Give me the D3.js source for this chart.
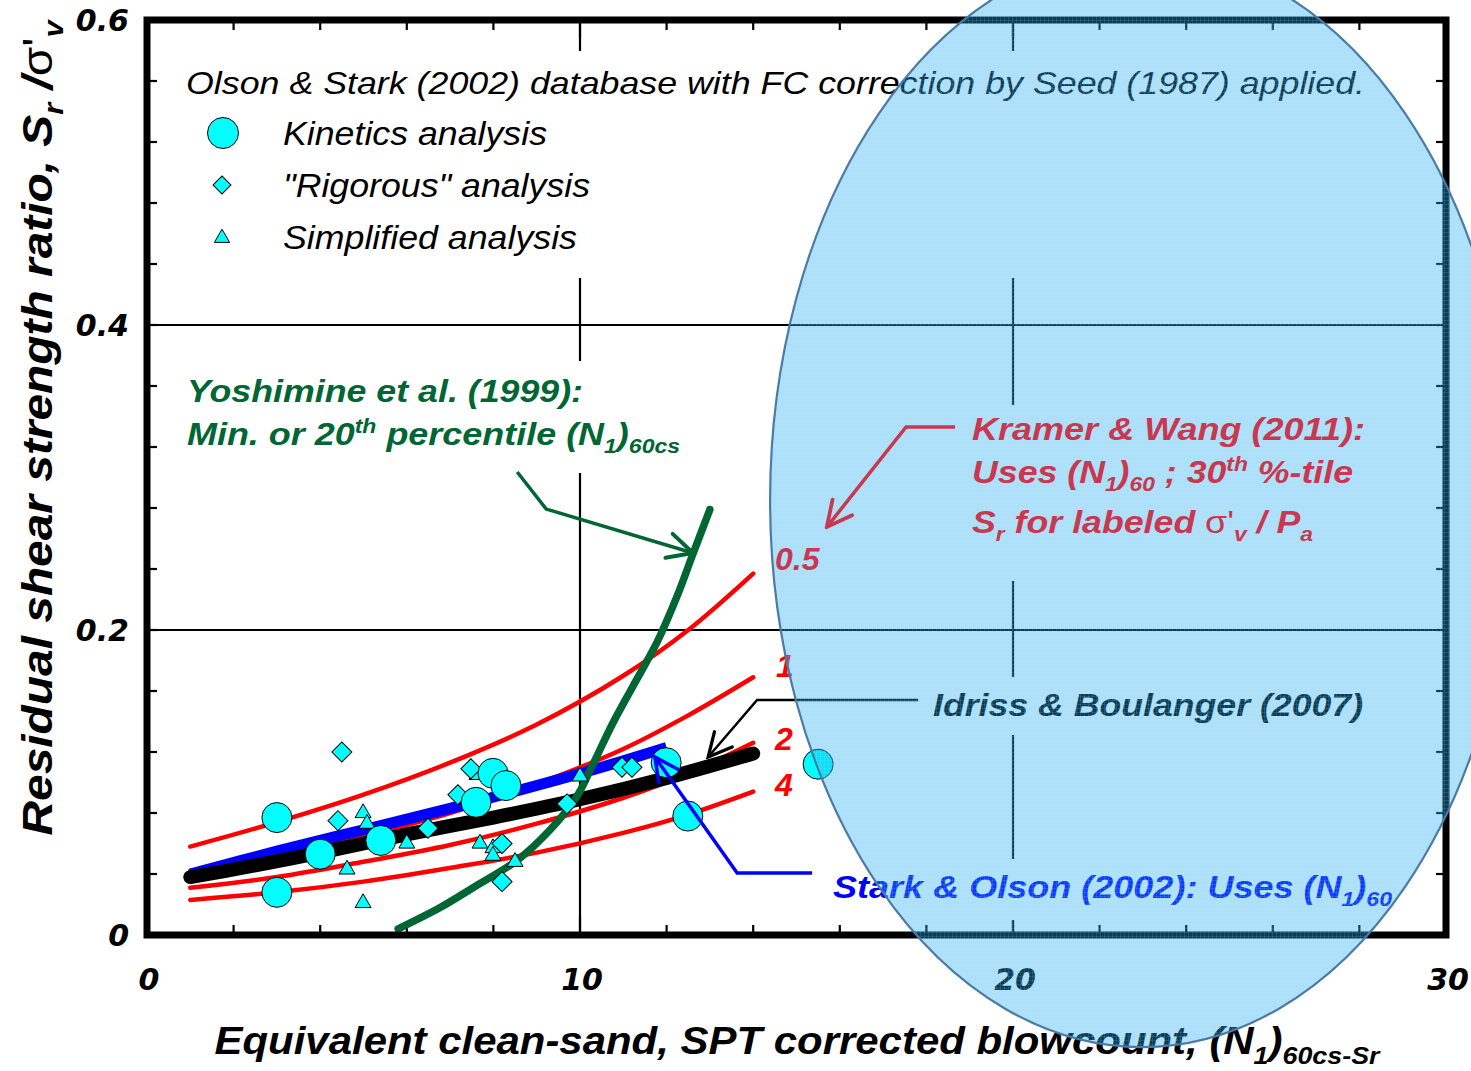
<!DOCTYPE html>
<html>
<head>
<meta charset="utf-8">
<script src="https://cdn.jsdelivr.net/npm/d3@7"></script>
<style>
  body { margin: 0; background: #fff; }
  svg { display: block; }
</style>
</head>
<body>
<div id="chart"></div>
<script>
/* ------------------------- Data ------------------------- */
/* Olson & Stark (2002) database: [ (N1)60cs-Sr , Sr/sigma'v ] */
var kinetics = [
    [3.00, 0.077], [4.00, 0.053], [3.00, 0.028], [5.40, 0.062], [7.99, 0.106],
    [8.29, 0.098], [7.60, 0.087], [11.99, 0.113], [12.49, 0.078], [15.50, 0.112]
];
var rigorous = [
    [4.50, 0.120], [4.41, 0.075], [7.48, 0.109], [7.18, 0.092], [6.49, 0.070],
    [8.20, 0.060], [8.20, 0.035], [9.70, 0.086], [10.97, 0.110], [11.20, 0.110]
];
var simplified = [
    [4.99, 0.080], [5.08, 0.073], [4.62, 0.043], [4.99, 0.021], [6.00, 0.060],
    [7.62, 0.105], [7.69, 0.060], [7.99, 0.057], [7.99, 0.052], [8.50, 0.048],
    [10.00, 0.104]
];

/* Kramer & Wang (2011) curves for sigma'v / Pa = 0.5, 1, 2, 4 */
var kwLabels = ["0.5", "1", "2", "4"];
var kw05 = [[1, 0.058], [3, 0.074], [5, 0.092], [7, 0.113], [9, 0.138], [11, 0.170], [12.5, 0.200], [14, 0.237]];
var kw1  = [[1, 0.042], [3, 0.052], [5, 0.065], [7, 0.080], [9, 0.099], [11, 0.122], [12.5, 0.144], [14, 0.169]];
var kw2  = [[1, 0.031], [3, 0.038], [5, 0.048], [7, 0.059], [9, 0.073], [11, 0.090], [12.5, 0.106], [14, 0.126]];
var kw4  = [[1, 0.023], [3, 0.028], [5, 0.035], [7, 0.044], [9, 0.054], [11, 0.067], [12.5, 0.079], [14, 0.094]];

/* Stark & Olson (2002) */
var starkOlson = [[1.0, 0.040], [3.0, 0.055], [5.0, 0.069], [7.0, 0.083], [9.0, 0.098], [10.5, 0.110], [12.0, 0.123]];

/* Idriss & Boulanger (2007) */
var idrissBoulanger = [[1, 0.038], [2, 0.043], [4, 0.054], [6, 0.066], [8, 0.077], [10, 0.089], [12, 0.103], [14, 0.119]];

/* Yoshimine et al. (1999) */
var yoshimine = [
    [5.80, 0.004], [6.77, 0.018], [7.53, 0.031], [8.55, 0.049], [9.31, 0.069],
    [9.93, 0.091], [10.30, 0.112], [10.76, 0.139], [11.22, 0.163], [11.78, 0.192],
    [12.24, 0.222], [12.61, 0.250], [13.00, 0.279]
];

/* Call-out arrows (data units) */
var arrowYoshimine = [[8.55, 0.3036], [9.22, 0.2793], [12.61, 0.2505]];
var arrowIdriss    = [[17.81, 0.1541], [14.09, 0.1541], [12.96, 0.1167]];
var arrowStark     = [[15.36, 0.0407], [13.63, 0.0407], [11.73, 0.1167]];
var arrowKramer    = [[18.66, 0.3331], [17.53, 0.3331], [15.70, 0.2675]];

/* Highlight ellipse (centre, radii in data units) */
var ellipseCentre = [22.98, 0.2852],
    ellipseRadii = [8.59, 0.3587];

/* Axis ticks */
var xTickLabels = [0, 10, 20, 30];
var yTickLabels = [0, 0.2, 0.4, 0.6];
var xGrid = [10, 20];
var yGrid = [0.2, 0.4];
/* ----------------------- End Data ----------------------- */

/* ------------------------- General ------------------------- */
var width = 1471,
    height = 1071,
    plot = {left: 147, top: 20, right: 1446, bottom: 935},
    boldFont = "'Liberation Sans', Arial, sans-serif",
    tickFont = "'DejaVu Sans', sans-serif",
    green = "#006633",
    crimson = "#c8384f";

var x = d3.scaleLinear().domain([0, 30]).range([plot.left, plot.right]);
var y = d3.scaleLinear().domain([0, 0.6]).range([plot.bottom, plot.top]);

var svg = d3.select("#chart")
            .append("svg")
            .attr("width", width)
            .attr("height", height);

var defs = svg.append("defs");

/* Text with sub / superscripts: parts = [[text, "sub"|"sup"|null, style], ...] */
function richText(sel, px, py, parts, attrs) {
    var t = sel.append("text").attr("x", px).attr("y", py);
    for (var key in attrs) t.attr(key, attrs[key]);
    var fs = attrs["font-size"], shift = 0;
    parts.forEach(function(p) {
        var target = p[1] === "sub" ? fs * 0.25 : p[1] === "sup" ? -fs * 0.36 : 0;
        var span = t.append("tspan").attr("dy", target - shift).text(p[0]);
        if (p[1]) span.attr("font-size", fs * 0.64);
        if (p[2]) span.attr("font-style", p[2]).attr("font-weight", "normal");
        shift = target;
    });
    return t;
}

/* White box behind a group of text */
function backing(g, pad) {
    var b = g.node().getBBox();
    g.insert("rect", ":first-child")
        .attr("x", b.x - pad[3])
        .attr("y", b.y - pad[0])
        .attr("width", b.width + pad[1] + pad[3])
        .attr("height", b.height + pad[0] + pad[2])
        .attr("fill", "#fff");
}

/* Open chevron arrow heads */
function arrowHead(id, color, size, sw) {
    defs.append("marker")
        .attr("id", id)
        .attr("viewBox", "-1 -1 12 12")
        .attr("refX", 10)
        .attr("refY", 5)
        .attr("markerUnits", "userSpaceOnUse")
        .attr("markerWidth", size)
        .attr("markerHeight", size)
        .attr("orient", "auto")
        .append("path")
        .attr("d", "M0,0 L10,5 L0,10")
        .attr("fill", "none")
        .attr("stroke", color)
        .attr("stroke-width", sw)
        .attr("stroke-linecap", "round");
}
arrowHead("headGreen", green, 30, 1.6);
arrowHead("headBlack", "#000", 28, 1.4);
arrowHead("headBlue", "#0000ff", 28, 1.5);
arrowHead("headRed", crimson, 30, 1.5);

var line = d3.line()
            .x(function(d) { return x(d[0]); })
            .y(function(d) { return y(d[1]); })
            .curve(d3.curveCatmullRom);

var poly = d3.line()
            .x(function(d) { return x(d[0]); })
            .y(function(d) { return y(d[1]); });

function bi(fill, len) {
    return {"font-family": boldFont, "font-style": "italic", "font-weight": "bold",
            "font-size": 32, "fill": fill, "textLength": len, "lengthAdjust": "spacingAndGlyphs"};
}
/* ----------------------- End General ----------------------- */

/* ------------------------- Grid and ticks ------------------------- */
svg.append("g")
    .selectAll("line")
    .data(xGrid)
    .enter().append("line")
    .attr("x1", function(d) { return x(d); })
    .attr("x2", function(d) { return x(d); })
    .attr("y1", plot.top)
    .attr("y2", plot.bottom)
    .attr("stroke", "#000")
    .attr("stroke-width", 2.2);

svg.append("g")
    .selectAll("line")
    .data(yGrid)
    .enter().append("line")
    .attr("x1", plot.left)
    .attr("x2", plot.right)
    .attr("y1", function(d) { return y(d); })
    .attr("y2", function(d) { return y(d); })
    .attr("stroke", "#000")
    .attr("stroke-width", 2.2);

/* Inward ticks on all four sides */
var xTicks = d3.range(2, 30, 2),
    yTicks = d3.range(1, 15).map(function(i) { return i * 0.04; });

var ticks = svg.append("g").attr("stroke", "#000").attr("stroke-width", 2.2);

xTicks.forEach(function(v) {
    var len = (v % 10 === 0) ? 18 : 10;
    ticks.append("line").attr("x1", x(v)).attr("x2", x(v))
        .attr("y1", plot.bottom).attr("y2", plot.bottom - len);
    ticks.append("line").attr("x1", x(v)).attr("x2", x(v))
        .attr("y1", plot.top).attr("y2", plot.top + len);
});
yTicks.forEach(function(v) {
    ticks.append("line").attr("y1", y(v)).attr("y2", y(v))
        .attr("x1", plot.left).attr("x2", plot.left + 10);
    ticks.append("line").attr("y1", y(v)).attr("y2", y(v))
        .attr("x1", plot.right).attr("x2", plot.right - 10);
});
/* ----------------------- End Grid ----------------------- */

/* ------------------------- Curves ------------------------- */
var kwCurves = [kw05, kw1, kw2, kw4];

svg.append("g")
    .selectAll("path")
    .data(kwCurves)
    .enter().append("path")
    .attr("d", line)
    .attr("fill", "none")
    .attr("stroke", "#ff0000")
    .attr("stroke-width", 4.5)
    .attr("stroke-linecap", "round");

svg.append("path")
    .datum(starkOlson)
    .attr("d", line)
    .attr("fill", "none")
    .attr("stroke", "#0000ff")
    .attr("stroke-width", 11);

svg.append("path")
    .datum(idrissBoulanger)
    .attr("d", line)
    .attr("fill", "none")
    .attr("stroke", "#000")
    .attr("stroke-width", 14)
    .attr("stroke-linecap", "round");

svg.append("path")
    .datum(yoshimine)
    .attr("d", line)
    .attr("fill", "none")
    .attr("stroke", green)
    .attr("stroke-width", 7.5)
    .attr("stroke-linecap", "round");
/* ----------------------- End Curves ----------------------- */

/* ------------------------- Data points ------------------------- */
var diamond = d3.symbol().type(d3.symbolSquare).size(200),
    triangle = d3.symbol().type(d3.symbolTriangle).size(110);

var points = svg.append("g")
                .attr("fill", "#00ffff")
                .attr("stroke", "#000")
                .attr("stroke-width", 1);

points.selectAll(".tri")
    .data(simplified)
    .enter().append("path")
    .attr("class", "tri")
    .attr("d", triangle)
    .attr("transform", function(d) { return "translate(" + x(d[0]) + "," + y(d[1]) + ")"; });

points.selectAll(".dia")
    .data(rigorous)
    .enter().append("path")
    .attr("class", "dia")
    .attr("d", diamond)
    .attr("transform", function(d) { return "translate(" + x(d[0]) + "," + y(d[1]) + ")rotate(45)"; });

points.selectAll("circle")
    .data(kinetics)
    .enter().append("circle")
    .attr("cx", function(d) { return x(d[0]); })
    .attr("cy", function(d) { return y(d[1]); })
    .attr("r", 15);
/* ----------------------- End Data points ----------------------- */

/* ------------------------- Legend ------------------------- */
var legend = svg.append("g")
                .attr("font-family", boldFont)
                .attr("font-style", "italic")
                .attr("fill", "#000");

legend.append("text")
    .attr("x", 186).attr("y", 94)
    .attr("font-size", 32)
    .attr("textLength", 1179)
    .attr("lengthAdjust", "spacingAndGlyphs")
    .text("Olson & Stark (2002) database with FC correction by Seed (1987) applied.");

var legendItems = ["Kinetics analysis", "\"Rigorous\" analysis", "Simplified analysis"],
    legendWidths = [264, 307, 294];
legend.selectAll(".item")
    .data(legendItems)
    .enter().append("text")
    .attr("class", "item")
    .attr("x", 283)
    .attr("y", function(d, i) { return 145 + i * 52; })
    .attr("font-size", 33)
    .attr("textLength", function(d, i) { return legendWidths[i]; })
    .attr("lengthAdjust", "spacingAndGlyphs")
    .text(function(d) { return d; });

backing(legend, [14, 40, 22, 26]);

var legendMarks = legend.append("g")
                        .attr("fill", "#00ffff")
                        .attr("stroke", "#000")
                        .attr("stroke-width", 1);
legendMarks.append("circle").attr("cx", 223).attr("cy", 133).attr("r", 15.5);
legendMarks.append("path").attr("d", d3.symbol().type(d3.symbolSquare).size(160))
    .attr("transform", "translate(222,185)rotate(45)");
legendMarks.append("path").attr("d", d3.symbol().type(d3.symbolTriangle).size(100))
    .attr("transform", "translate(222,238)");
/* ----------------------- End Legend ----------------------- */

/* ------------------------- Annotations under the ellipse ------------------------- */
/* Yoshimine */
var yoshi = svg.append("g");
richText(yoshi, 187, 402, [["Yoshimine et al. (1999):"]], bi(green, 396));
richText(yoshi, 187, 445, [["Min. or 20"], ["th", "sup"], [" percentile (N"], ["1", "sub"], [")"], ["60cs", "sub"]],
    bi(green, 493));
backing(yoshi, [12, 6, 16, 6]);

svg.append("path")
    .datum(arrowYoshimine)
    .attr("d", poly)
    .attr("fill", "none")
    .attr("stroke", green)
    .attr("stroke-width", 3.5)
    .attr("marker-end", "url(#headGreen)");

/* White box behind the Kramer & Wang note (text itself is drawn above the ellipse) */
var kramerBox = svg.append("g");

/* Curve labels for sigma'v / Pa (0.5 goes above the ellipse) */
var kwLabelPos = [[775, 570], [776, 677], [775, 750], [775, 796]];
svg.append("g")
    .selectAll("text")
    .data(kwLabels.slice(1))
    .enter().append("text")
    .attr("x", function(d, i) { return kwLabelPos[i + 1][0]; })
    .attr("y", function(d, i) { return kwLabelPos[i + 1][1]; })
    .attr("font-family", boldFont)
    .attr("font-style", "italic")
    .attr("font-weight", "bold")
    .attr("font-size", 32)
    .attr("fill", "#ff0000")
    .text(function(d) { return d; });

/* Idriss & Boulanger */
var idriss = svg.append("g");
richText(idriss, 933, 716, [["Idriss & Boulanger (2007)"]], bi("#000", 430));
backing(idriss, [10, 8, 12, 8]);

svg.append("path")
    .datum(arrowIdriss)
    .attr("d", poly)
    .attr("fill", "none")
    .attr("stroke", "#000")
    .attr("stroke-width", 2.5)
    .attr("marker-end", "url(#headBlack)");

/* Stark & Olson */
var stark = svg.append("g");
richText(stark, 833, 898, [["Stark & Olson (2002): Uses (N"], ["1", "sub"], [")"], ["60", "sub"]],
    bi("#0000ff", 559));
backing(stark, [10, 8, 10, 8]);

svg.append("path")
    .datum(arrowStark)
    .attr("d", poly)
    .attr("fill", "none")
    .attr("stroke", "#0000ff")
    .attr("stroke-width", 3.5)
    .attr("marker-end", "url(#headBlue)");
/* ----------------------- End Annotations ----------------------- */

/* ------------------------- Border & axis labels ------------------------- */
svg.append("rect")
    .attr("x", plot.left)
    .attr("y", plot.top)
    .attr("width", plot.right - plot.left)
    .attr("height", plot.bottom - plot.top)
    .attr("fill", "none")
    .attr("stroke", "#000")
    .attr("stroke-width", 7);

svg.append("g")
    .selectAll("text")
    .data(yTickLabels)
    .enter().append("text")
    .attr("x", 129)
    .attr("y", function(d) { return y(d) + 11; })
    .attr("text-anchor", "end")
    .attr("font-family", tickFont)
    .attr("font-style", "italic")
    .attr("font-weight", "bold")
    .attr("font-size", 30)
    .text(function(d) { return d === 0 ? "0" : d3.format(".1f")(d); });

svg.append("g")
    .selectAll("text")
    .data(xTickLabels)
    .enter().append("text")
    .attr("x", function(d) { return x(d) + 2; })
    .attr("y", 990)
    .attr("text-anchor", "middle")
    .attr("font-family", tickFont)
    .attr("font-style", "italic")
    .attr("font-weight", "bold")
    .attr("font-size", 30)
    .text(function(d) { return d; });

var xTitleAttrs = bi("#000", 1165);
xTitleAttrs["font-size"] = 38;
xTitleAttrs["text-anchor"] = "middle";
richText(svg, 797, 1054,
    [["Equivalent clean-sand, SPT corrected blowcount, (N"], ["1", "sub"], [")"], ["60cs-Sr", "sub"]],
    xTitleAttrs);

var yTitleAttrs = bi("#000", 815);
yTitleAttrs["font-size"] = 42;
yTitleAttrs["text-anchor"] = "middle";
yTitleAttrs["transform"] = "translate(52,428)rotate(-90)";
richText(svg, 0, 0,
    [["Residual shear strength ratio, S"], ["r", "sub"], [" /"], ["σ'", null, "normal"], ["v", "sub"]],
    yTitleAttrs);
/* ----------------------- End Border ----------------------- */

/* ------------------------- Highlight ellipse ------------------------- */
var mesh = defs.append("pattern")
                .attr("id", "mesh")
                .attr("patternUnits", "userSpaceOnUse")
                .attr("width", 4)
                .attr("height", 4);
mesh.append("rect").attr("width", 4).attr("height", 4)
    .attr("fill", "rgb(30,170,238)").attr("fill-opacity", 0.36);
mesh.append("rect").attr("width", 4).attr("height", 1)
    .attr("fill", "#bfeaff").attr("fill-opacity", 0.12);
mesh.append("rect").attr("width", 1).attr("height", 4)
    .attr("fill", "#bfeaff").attr("fill-opacity", 0.12);

/* Kramer & Wang note: white box first, tinted by the ellipse afterwards */
var kramerText = svg.append("g").attr("visibility", "hidden");
richText(kramerText, 972, 440, [["Kramer & Wang (2011):"]], bi(crimson, 393));
richText(kramerText, 972, 483, [["Uses (N"], ["1", "sub"], [")"], ["60", "sub"], [" ; 30"], ["th", "sup"], [" %-tile"]],
    bi(crimson, 381));
richText(kramerText, 972, 533, [["S"], ["r", "sub"], [" for labeled "], ["σ'", null, "normal"], ["v", "sub"], [" / P"], ["a", "sub"]],
    bi(crimson, 341));
var kb = kramerText.node().getBBox();
kramerBox.append("rect")
    .attr("x", kb.x - 10)
    .attr("y", kb.y - 6)
    .attr("width", kb.width + 20)
    .attr("height", kb.height + 42)
    .attr("fill", "#fff");

svg.append("ellipse")
    .attr("cx", x(ellipseCentre[0]))
    .attr("cy", y(ellipseCentre[1]))
    .attr("rx", x(ellipseRadii[0]) - x(0))
    .attr("ry", y(0) - y(ellipseRadii[1]))
    .attr("fill", "url(#mesh)")
    .attr("stroke", "#4a7aa6")
    .attr("stroke-width", 2.2);

/* Kramer & Wang note in crimson on top */
svg.node().appendChild(kramerText.node());
kramerText.attr("visibility", null);

svg.append("path")
    .datum(arrowKramer)
    .attr("d", poly)
    .attr("fill", "none")
    .attr("stroke", crimson)
    .attr("stroke-width", 3.5)
    .attr("marker-end", "url(#headRed)");

svg.append("text")
    .attr("x", kwLabelPos[0][0])
    .attr("y", kwLabelPos[0][1])
    .attr("font-family", boldFont)
    .attr("font-style", "italic")
    .attr("font-weight", "bold")
    .attr("font-size", 32)
    .attr("fill", crimson)
    .text(kwLabels[0]);
/* ----------------------- End Highlight ellipse ----------------------- */
</script>
</body>
</html>
